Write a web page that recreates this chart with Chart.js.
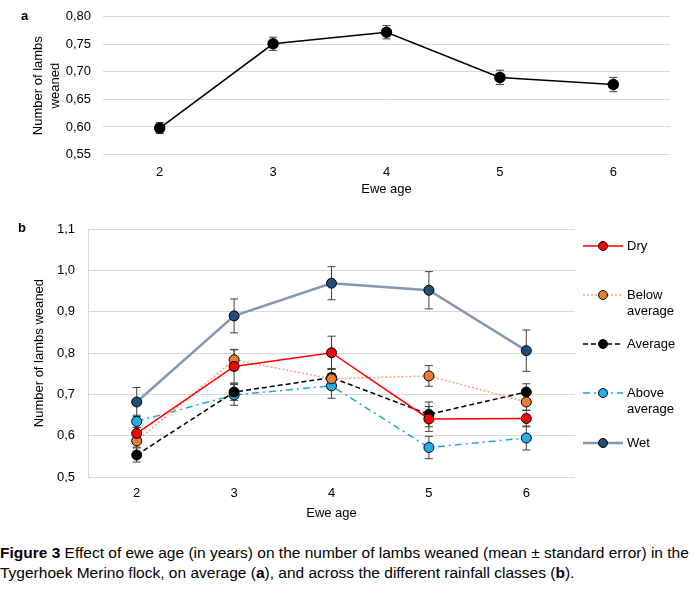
<!DOCTYPE html>
<html>
<head>
  <title>Ewe age and lambs weaned</title>
  <script src="https://cdn.jsdelivr.net/npm/chart.js"></script>
  <style>
    body { margin: 0; background: #fff; font-family: "Liberation Sans", Arial, sans-serif; }
    #wrap { position: relative; width: 696px; height: 595px; overflow: hidden; }
    .panel { position: absolute; left: 0; }
    .tag { position: absolute; font-weight: bold; font-size: 13px; color: #000; }
    #caption { position: absolute; left: 0; top: 543px; width: 700px; font-size: 15.5px; line-height: 20px; white-space: nowrap; color: #000; }
  </style>
</head>
<body>
<div id="wrap">
  <div class="panel" style="top:-3px;width:696px;height:200px"><canvas id="chartA"></canvas></div>
  <div class="panel" style="top:200px;width:696px;height:321px"><canvas id="chartB"></canvas></div>
  <div class="tag" style="left:21px;top:8px">a</div>
  <div class="tag" style="left:18px;top:220px">b</div>
  <div id="caption"><b>Figure 3</b> Effect of ewe age (in years) on the number of lambs weaned (mean ± standard error) in the<br>Tygerhoek Merino flock, on average (<b>a</b>), and across the different rainfall classes (<b>b</b>).</div>
</div>

<script>
  // Edades de las ovejas
  var ages = ['2', '3', '4', '5', '6'];

  // Panel a: promedio
  var meanA = [0.598, 0.751, 0.772, 0.690, 0.677];
  var errA  = [0.010, 0.012, 0.012, 0.013, 0.013];

  // Panel b: por clase de lluvia
  var dry      = [0.606, 0.768, 0.801, 0.641, 0.642];
  var dryErr   = [0.015, 0.040, 0.040, 0.030, 0.020];
  var belowAvg = [0.588, 0.784, 0.738, 0.745, 0.682];
  var belowErr = [0.015, 0.025, 0.025, 0.025, 0.020];
  var average  = [0.554, 0.706, 0.741, 0.652, 0.706];
  var avgErr   = [0.017, 0.020, 0.020, 0.030, 0.020];
  var aboveAvg = [0.635, 0.699, 0.721, 0.572, 0.595];
  var aboveErr = [0.015, 0.025, 0.030, 0.027, 0.029];
  var wet      = [0.682, 0.890, 0.969, 0.952, 0.806];
  var wetErr   = [0.035, 0.041, 0.040, 0.045, 0.050];

  var FONT = 'Liberation Sans';
  Chart.defaults.font.family = FONT;
  Chart.defaults.font.size = 13;
  Chart.defaults.color = '#000';

  // Barras de error dibujadas con las escalas del gráfico
  var errorBars = {
    id: 'errorBars',
    beforeDatasetsDraw: function(chart) {
      var c = chart.ctx, y = chart.scales.y;
      c.save();
      c.strokeStyle = '#404040';
      c.lineWidth = 1;
      chart.data.datasets.forEach(function(ds, i) {
        if (!ds.errors) return;
        var meta = chart.getDatasetMeta(i);
        meta.data.forEach(function(pt, j) {
          var v = ds.data[j], e = ds.errors[j];
          var top = y.getPixelForValue(v + e), bot = y.getPixelForValue(v - e);
          c.beginPath();
          c.moveTo(pt.x, top); c.lineTo(pt.x, bot);
          c.moveTo(pt.x - 4, top); c.lineTo(pt.x + 4, top);
          c.moveTo(pt.x - 4, bot); c.lineTo(pt.x + 4, bot);
          c.stroke();
        });
      });
      c.restore();
    }
  };

  // Leyenda a la derecha (panel b)
  var sideLegend = {
    id: 'sideLegend',
    afterDraw: function(chart) {
      var c = chart.ctx;
      var rows = [
        { y: 46,  text: ['Dry'] },
        { y: 95,  text: ['Below', 'average'] },
        { y: 144, text: ['Average'] },
        { y: 193, text: ['Above', 'average'] },
        { y: 243, text: ['Wet'] }
      ];
      c.save();
      chart.data.datasets.forEach(function(ds, i) {
        var r = rows[i];
        c.strokeStyle = ds.borderColor;
        c.lineWidth = ds.borderWidth;
        c.setLineDash(ds.borderDash || []);
        c.beginPath();
        c.moveTo(583, r.y); c.lineTo(623, r.y);
        c.stroke();
        c.setLineDash([]);
        c.beginPath();
        c.arc(603, r.y, 4.5, 0, Math.PI * 2);
        c.fillStyle = ds.pointBackgroundColor;
        c.fill();
        c.strokeStyle = '#000';
        c.lineWidth = 1;
        c.stroke();
        c.fillStyle = '#000';
        c.font = '13px ' + FONT;
        c.textBaseline = 'middle';
        c.textAlign = 'left';
        r.text.forEach(function(t, k) { c.fillText(t, 627, r.y + k * 16); });
      });
      c.restore();
    }
  };

  function commaTicks(dec) {
    return function(v) { return Number(v).toFixed(dec).replace('.', ','); };
  }

  new Chart(document.getElementById('chartA'), {
    type: 'line',
    data: {
      labels: ages,
      datasets: [{
        data: meanA,
        errors: errA,
        borderColor: '#000',
        borderWidth: 1.5,
        pointBackgroundColor: '#000',
        pointBorderColor: '#000',
        pointRadius: 5,
        tension: 0
      }]
    },
    options: {
      responsive: true,
      maintainAspectRatio: false,
      animation: false,
      layout: { padding: { left: 24, right: 26, top: 13, bottom: 0 } },
      plugins: { legend: { display: false }, tooltip: { enabled: false } },
      scales: {
        x: {
          offset: true,
          afterFit: function(s) { s.height = 42.5; },
          grid: { display: false, drawTicks: false },
          border: { display: false },
          ticks: { padding: 10 },
          title: { display: true, text: 'Ewe age', padding: { top: 1, bottom: 0 } }
        },
        y: {
          min: 0.55, max: 0.80,
          afterFit: function(s) { s.width = 79; },
          grid: { color: '#d9d9d9', drawTicks: false },
          border: { display: false },
          ticks: { stepSize: 0.05, padding: 12, callback: commaTicks(2) },
          title: { display: true, text: ['Number of lambs', 'weaned'], font: { lineHeight: 1.3 },
                   padding: { top: 6, bottom: 0 } }
        }
      }
    },
    plugins: [errorBars]
  });

  new Chart(document.getElementById('chartB'), {
    type: 'line',
    data: {
      labels: ages,
      datasets: [
        { label: 'Dry', data: dry, errors: dryErr, borderColor: '#ff0000', borderWidth: 1.5,
          pointBackgroundColor: '#ff0000' },
        { label: 'Below average', data: belowAvg, errors: belowErr, borderColor: '#f4a27a', borderWidth: 1.5,
          borderDash: [2, 2], pointBackgroundColor: '#ed7d31' },
        { label: 'Average', data: average, errors: avgErr, borderColor: '#000', borderWidth: 1.5,
          borderDash: [5, 3], pointBackgroundColor: '#000' },
        { label: 'Above average', data: aboveAvg, errors: aboveErr, borderColor: '#18a8e0', borderWidth: 1.5,
          borderDash: [7, 4, 2, 4], pointBackgroundColor: '#1fb0ea' },
        { label: 'Wet', data: wet, errors: wetErr, borderColor: '#8597b0', borderWidth: 2.5,
          pointBackgroundColor: '#1f4e79' }
      ].map(function(d) {
        d.pointBorderColor = '#000';
        d.pointBorderWidth = 1;
        d.pointRadius = 5;
        d.tension = 0;
        return d;
      })
    },
    options: {
      responsive: true,
      maintainAspectRatio: false,
      animation: false,
      layout: { padding: { left: 28, right: 121, top: 29, bottom: 0 } },
      plugins: { legend: { display: false }, tooltip: { enabled: false } },
      scales: {
        x: {
          offset: true,
          afterFit: function(s) { s.height = 43.7; },
          grid: { display: false, drawTicks: false },
          border: { display: false },
          ticks: { padding: 8 },
          title: { display: true, text: 'Ewe age', padding: { top: 4, bottom: 0 } }
        },
        y: {
          min: 0.5, max: 1.1,
          afterFit: function(s) { s.width = 60; },
          grid: { color: '#d9d9d9', drawTicks: false },
          border: { display: true, color: '#d9d9d9' },
          ticks: { stepSize: 0.1, padding: 13, callback: commaTicks(1) },
          title: { display: true, text: 'Number of lambs weaned', padding: { top: 4, bottom: 0 } }
        }
      }
    },
    plugins: [errorBars, sideLegend]
  });
</script>
</body>
</html>
